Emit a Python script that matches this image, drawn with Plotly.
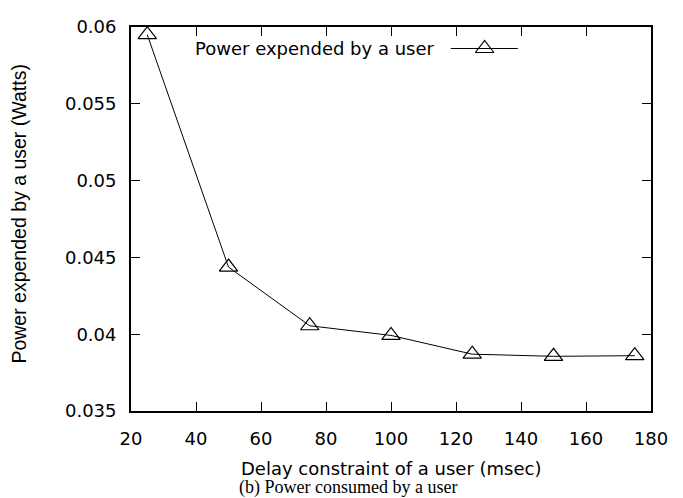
import plotly.graph_objects as go

# Data
delay_msec = [25, 50, 75, 100, 125, 150, 175]
power_watts = [0.0595, 0.04437, 0.04055, 0.03992, 0.0387, 0.03856, 0.0386]
x_ticks = [20, 40, 60, 80, 100, 120, 140, 160, 180]
y_ticks = [0.035, 0.04, 0.045, 0.05, 0.055, 0.06]
y_tick_text = ["0.035", "0.04", "0.045", "0.05", "0.055", "0.06"]
series_name = "Power expended by a user"
x_title = "Delay constraint of a user (msec)"
y_title = "Power expended by a user (Watts)"
caption = "(b) Power consumed by a user"

FONT = "DejaVu Sans, Liberation Sans, Arial, sans-serif"
FONT_ROT = "Liberation Sans, Arial, Helvetica, sans-serif"
FS = 18

fig = go.Figure()
fig.add_trace(go.Scatter(
    x=delay_msec, y=power_watts, mode="lines+markers", name=series_name,
    line=dict(color="black", width=1),
    marker=dict(symbol="triangle-up-open", size=16, color="black",
                line=dict(color="black", width=1.2)),
    showlegend=False, cliponaxis=False,
))
# gnuplot-style key sample (line + marker, placed right of the key text)
fig.add_trace(go.Scatter(
    x=[0.615, 0.68, 0.744], y=[0.944, 0.944, 0.944], xaxis="x2", yaxis="y2",
    mode="lines", line=dict(color="black", width=1), showlegend=False,
    hoverinfo="skip",
))
fig.add_trace(go.Scatter(
    x=[0.68], y=[0.944], xaxis="x2", yaxis="y2", mode="markers",
    marker=dict(symbol="triangle-up-open", size=16, color="black",
                line=dict(color="black", width=1.2)),
    showlegend=False, hoverinfo="skip",
))

axis_common = dict(
    showline=True, linecolor="black", linewidth=1.8, mirror="ticks",
    ticks="inside", ticklen=9, tickwidth=1, tickcolor="black",
    showgrid=False, zeroline=False, ticklabeloverflow="allow",
    tickfont=dict(family=FONT, size=FS, color="black"),
)

# The page body adds an 8px offset, so margins are shifted to keep the
# plot box at the reference position inside the 683x498 window.
fig.update_layout(
    width=683, height=498,
    margin=dict(l=123, r=40, t=8, b=95),
    paper_bgcolor="white", plot_bgcolor="white",
    xaxis=dict(range=[20, 180], tickvals=x_ticks, ticklabelstandoff=10, **axis_common),
    yaxis=dict(range=[0.035, 0.06], tickvals=y_ticks, ticktext=y_tick_text,
               ticklabelstandoff=9, **axis_common),
    xaxis2=dict(overlaying="x", range=[0, 1], visible=False),
    yaxis2=dict(overlaying="y", range=[0, 1], visible=False),
    annotations=[
        dict(text=series_name, xref="paper", yref="paper", x=0.588, y=0.944,
             xanchor="right", yanchor="middle", showarrow=False,
             font=dict(family=FONT, size=FS, color="black")),
        dict(text=x_title, xref="paper", yref="paper", x=0.5, y=-0.15,
             xanchor="center", yanchor="middle", showarrow=False,
             font=dict(family=FONT, size=FS, color="black")),
        dict(text=y_title, xref="paper", yref="paper", x=-0.2154, y=0.514,
             xanchor="center", yanchor="middle", textangle=-90, showarrow=False,
             font=dict(family=FONT_ROT, size=19.5, color="black")),
        dict(text=caption, xref="paper", yref="paper", x=0.417, y=-0.198,
             xanchor="center", yanchor="middle", showarrow=False,
             font=dict(family="Liberation Serif, Times New Roman, serif", size=18, color="black")),
    ],
)

fig.write_html("out.html")
